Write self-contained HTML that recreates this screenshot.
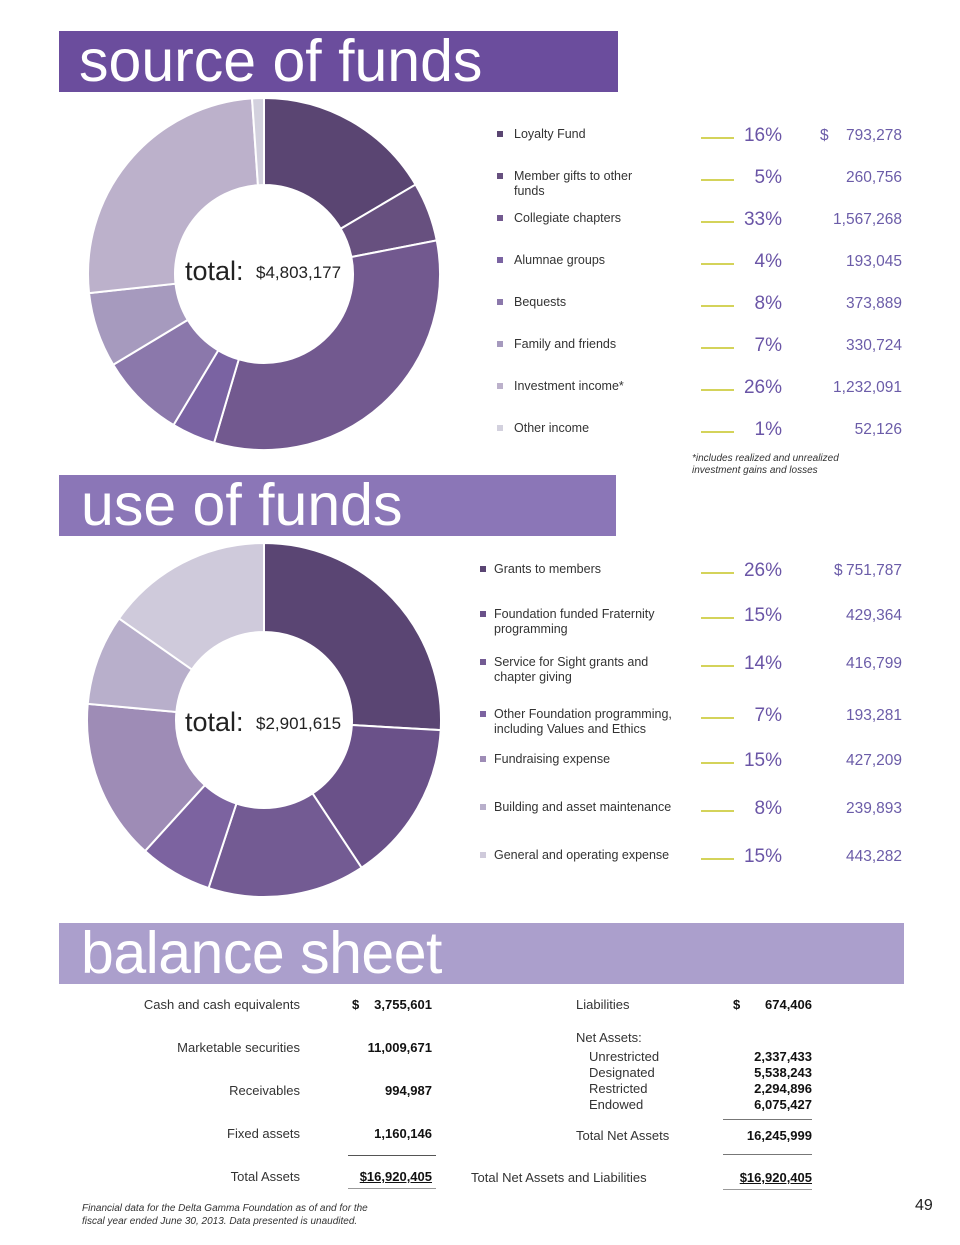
<!DOCTYPE html>
<html><head><meta charset="utf-8">
<style>
body{margin:0;background:#fff;font-family:"Liberation Sans",sans-serif;}
#page{position:relative;width:960px;height:1245px;overflow:hidden;background:#fff;}
.banner{position:absolute;height:61px;color:#fff;font-size:59px;line-height:61px;letter-spacing:0px;}
.abs{position:absolute;white-space:nowrap;}
.lbl{font-size:12.5px;color:#333;}
.pct{font-size:19px;color:#6a55a6;text-align:right;width:60px;}
.val{font-size:15.5px;color:#6b5ca8;text-align:right;width:100px;}
.ln{height:2px;background:#d4d35a;width:33px;}
.bul{width:6px;height:6px;}
.bs{font-size:13px;color:#333;}
.bsv{font-size:13px;color:#111;font-weight:bold;text-align:right;}
.rule{position:absolute;height:1px;background:#555;}
</style></head><body>
<div id="page">
<div class="banner" style="left:59px;top:31px;width:559px;background:#6b4d9d;"><span style="margin-left:20px">source of funds</span></div>
<div class="banner" style="left:59px;top:475px;width:557px;background:#8b76b7;"><span style="margin-left:22px">use of funds</span></div>
<div class="banner" style="left:59px;top:923px;width:845px;background:#ab9fcc;"><span style="margin-left:22px;letter-spacing:-0.5px">balance sheet</span></div>

<svg id="src" class="abs" style="left:0;top:0" width="960" height="1245"></svg>

<div class="abs" style="left:692px;top:453px;font-size:10px;font-style:italic;color:#333;line-height:12px">*includes realized and unrealized<br>investment gains and losses</div>

<!-- balance sheet -->
<div class="abs bs" style="left:100px;top:997px;width:200px;text-align:right">Cash and cash equivalents</div>
<div class="abs bsv" style="left:332px;top:997px;width:100px"><span style="float:left;margin-left:20px">$</span>3,755,601</div>
<div class="abs bs" style="left:100px;top:1040px;width:200px;text-align:right">Marketable securities</div>
<div class="abs bsv" style="left:332px;top:1040px;width:100px">11,009,671</div>
<div class="abs bs" style="left:100px;top:1083px;width:200px;text-align:right">Receivables</div>
<div class="abs bsv" style="left:332px;top:1083px;width:100px">994,987</div>
<div class="abs bs" style="left:100px;top:1126px;width:200px;text-align:right">Fixed assets</div>
<div class="abs bsv" style="left:332px;top:1126px;width:100px">1,160,146</div>
<div class="rule" style="left:348px;top:1155px;width:88px"></div>
<div class="abs bs" style="left:100px;top:1169px;width:200px;text-align:right">Total Assets</div>
<div class="abs bsv" style="left:332px;top:1169px;width:100px;text-decoration:underline">$16,920,405</div>
<div class="rule" style="left:348px;top:1188px;width:88px;background:#999"></div>

<div class="abs bs" style="left:576px;top:997px">Liabilities</div>
<div class="abs bsv" style="left:712px;top:997px;width:100px"><span style="float:left;margin-left:21px">$</span>674,406</div>
<div class="abs bs" style="left:576px;top:1030px">Net Assets:</div>
<div class="abs bs" style="left:589px;top:1049px;line-height:16px">Unrestricted<br>Designated<br>Restricted<br>Endowed</div>
<div class="abs bsv" style="left:712px;top:1049px;width:100px;line-height:16px">2,337,433<br>5,538,243<br>2,294,896<br>6,075,427</div>
<div class="rule" style="left:723px;top:1119px;width:89px;background:#777"></div>
<div class="abs bs" style="left:576px;top:1128px">Total Net Assets</div>
<div class="abs bsv" style="left:712px;top:1128px;width:100px">16,245,999</div>
<div class="rule" style="left:723px;top:1154px;width:89px;background:#777"></div>
<div class="abs bs" style="left:471px;top:1170px">Total Net Assets and Liabilities</div>
<div class="abs bsv" style="left:712px;top:1170px;width:100px;text-decoration:underline">$16,920,405</div>
<div class="rule" style="left:723px;top:1189px;width:89px;background:#999"></div>

<div class="abs" style="left:82px;top:1202px;font-size:10px;font-style:italic;color:#333;line-height:13px">Financial data for the Delta Gamma Foundation as of and for the<br>fiscal year ended June 30, 2013. Data presented is unaudited.</div>
<div class="abs" style="left:915px;top:1197px;font-size:16px;color:#222">49</div>
</div>
<script>
const srcLabels=["Loyalty Fund","Member gifts to other|funds","Collegiate chapters","Alumnae groups","Bequests","Family and friends","Investment income*","Other income"];
const srcValues=[793278,260756,1567268,193045,373889,330724,1232091,52126];
const srcPct=["16%","5%","33%","4%","8%","7%","26%","1%"];
const srcValText=["793,278","260,756","1,567,268","193,045","373,889","330,724","1,232,091","52,126"];
const srcColors=["#5a4572","#67507f","#72598f","#7a63a2","#8b78ab","#a69abe","#bcb1cb","#d3d1de"];
const useLabels=["Grants to members","Foundation funded Fraternity|programming","Service for Sight grants and|chapter giving","Other Foundation programming,|including Values and Ethics","Fundraising expense","Building and asset maintenance","General and operating expense"];
const useValues=[751787,429364,416799,193281,427209,239893,443282];
const usePct=["26%","15%","14%","7%","15%","8%","15%"];
const useValText=["751,787","429,364","416,799","193,281","427,209","239,893","443,282"];
const useColors=["#5a4573","#6a5189","#735b93","#7c63a0","#9e8cb6","#b8afcb","#cfcadb"];

const svg=document.getElementById('src');
const NS="http://www.w3.org/2000/svg";
function donut(vals,colors,cx,cy,R,r,name){
  const tot=vals.reduce((a,b)=>a+b,0);let a0=-Math.PI/2;
  vals.forEach((v,i)=>{
    const a1=a0+v/tot*2*Math.PI;const lg=(a1-a0)>Math.PI?1:0;
    const p=(rad,a)=>[cx+rad*Math.cos(a),cy+rad*Math.sin(a)];
    const [x0,y0]=p(R,a0),[x1,y1]=p(R,a1),[x2,y2]=p(r,a1),[x3,y3]=p(r,a0);
    const path=document.createElementNS(NS,'path');
    path.setAttribute('d',`M${x0} ${y0}A${R} ${R} 0 ${lg} 1 ${x1} ${y1}L${x2} ${y2}A${r} ${r} 0 ${lg} 0 ${x3} ${y3}Z`);
    path.setAttribute('fill',colors[i]);path.setAttribute('stroke','#fff');path.setAttribute('stroke-width','2');
    
    
    svg.appendChild(path);a0=a1;
  });
}
donut(srcValues,srcColors,264,274,176,89,'source');
donut(useValues,useColors,264,720,177,88,'use');
function txt(x,y,s,size,name){const t=document.createElementNS(NS,'text');t.setAttribute('x',x);t.setAttribute('y',y);t.setAttribute('font-size',size);t.setAttribute('fill','#222');t.setAttribute('font-family','Liberation Sans, sans-serif');t.textContent=s;


svg.appendChild(t);return t;}
txt(185,280,"total:",27,'source-total-word');txt(256,278,"$4,803,177",17,'source-total-value');
txt(185,731,"total:",27,'use-total-word');txt(256,729,"$2,901,615",17,'use-total-value');

const page=document.getElementById('page');
function legend(labels,pcts,vtxt,colors,ys,bx,lx,name,firstDollar){
  labels.forEach((l,i)=>{
    const y=ys[i];
    const b=document.createElement('div');b.className='abs bul';b.style.left=bx+'px';b.style.top=(y-5)+'px';b.style.background=colors[i];
    
    page.appendChild(b);
    const t=document.createElement('div');t.className='abs lbl';t.style.left=lx+'px';t.style.top=(y-9)+'px';t.style.lineHeight='15px';t.innerHTML=l.replace('|','<br>');
    
    page.appendChild(t);
    const ln=document.createElement('div');ln.className='abs ln';ln.style.left='701px';ln.style.top=(y+1)+'px';
    
    page.appendChild(ln);
    const p=document.createElement('div');p.className='abs pct';p.style.left='722px';p.style.top=(y-11)+'px';p.textContent=pcts[i];
    
    page.appendChild(p);
    const v=document.createElement('div');v.className='abs val';v.style.left='802px';v.style.top=(y-9)+'px';v.textContent=vtxt[i];
    if(i===0){v.innerHTML='<span style="float:left;margin-left:'+firstDollar+'px">$</span>'+vtxt[i];}
    
    page.appendChild(v);
  });
}
legend(srcLabels,srcPct,srcValText,srcColors,[136,178,220,262,304,346,388,430],497,514,'source-legend',18);
legend(useLabels,usePct,useValText,useColors,[571,616,664,716,761,809,857],480,494,'use-legend',32);
</script>
</body></html>
